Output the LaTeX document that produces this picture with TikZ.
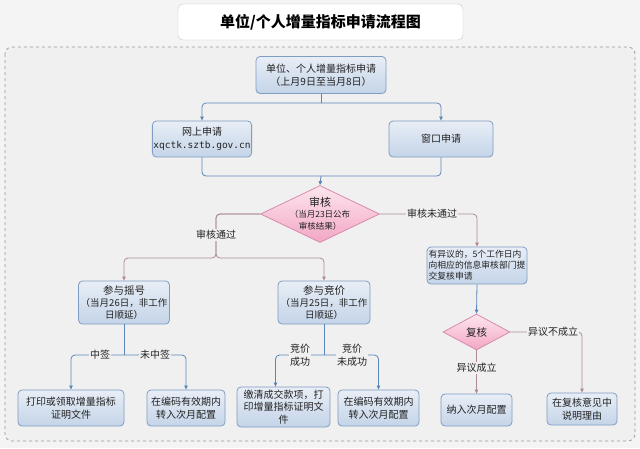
\documentclass[tikz,border=0pt]{standalone}
\usepackage{fontspec}
\setmainfont{Noto Sans CJK SC}
\setmonofont{DejaVu Sans Mono}
\usetikzlibrary{shapes.geometric,arrows.meta}
\definecolor{pagebg}{HTML}{F4F4F4}
\definecolor{contbg}{HTML}{F0F0F0}
\definecolor{contline}{HTML}{9A9A9A}
\definecolor{boxline}{HTML}{7F9DC2}
\definecolor{boxtop}{HTML}{E8EEF6}
\definecolor{boxbot}{HTML}{C4D4E8}
\definecolor{diatop}{HTML}{FDE6EE}
\definecolor{diabot}{HTML}{F2A6C4}
\definecolor{dialine}{HTML}{D98AAE}
\definecolor{blueline}{HTML}{5A86B8}
\definecolor{pinkline}{HTML}{B08A92}
\definecolor{txt}{HTML}{222222}
\tikzset{
  bluebox/.style={draw=boxline, line width=0.8pt, rounded corners=4pt,
    top color=boxtop, bottom color=boxbot, align=center, inner sep=1pt,
    font=\fontsize{10pt}{13pt}\selectfont, text=txt},
  diashape/.style={diamond, draw=dialine, line width=0.8pt,
    top color=diatop, bottom color=diabot, inner sep=0pt},
  diatext/.style={align=center, text=txt, inner sep=0pt},
  bconn/.style={draw=blueline, line width=0.8pt, rounded corners=4pt},
  pconn/.style={draw=pinkline, line width=0.8pt, rounded corners=4pt},
  tip/.style={-{Triangle[length=4pt,width=3.5pt]}},
  lbl/.style={fill=contbg, inner sep=1pt, text=txt, align=center,
    font=\fontsize{10pt}{12pt}\selectfont},
}
\begin{document}
\begin{tikzpicture}[x=1pt,y=-1pt]
\useasboundingbox (0,0) rectangle (640,448);
\fill[pagebg] (0,0) rectangle (640,448);
% container
\draw[contline, dashed, fill=contbg, rounded corners=7pt, line width=0.7pt] (5,47) rectangle (635,441);
% title
\node[draw=black!22, fill=white, rounded corners=5pt, minimum width=285, minimum height=36,
  font=\fontsize{15pt}{17pt}\selectfont\bfseries, text=black] (title) at (320.5,22) {单位/个人增量指标申请流程图};

% boxes
\node[bluebox, minimum width=130, minimum height=37] (start) at (321,75)
  {单位、个人增量指标申请\\（上月9日至当月8日）};
\node[bluebox, minimum width=99, minimum height=36] (web) at (202,139)
  {网上申请\\{\ttfamily\fontsize{9.5pt}{13pt}\selectfont xqctk.sztb.gov.cn}};
\node[bluebox, minimum width=104, minimum height=36] (win) at (441,139) {窗口申请};

\node[diashape, minimum width=119, minimum height=57] (shen) at (320,214) {};
\node[diatext] (shent) at (320,214)
  {{\fontsize{11pt}{12pt}\selectfont 审核}\\[-1pt]{\fontsize{8.5pt}{11pt}\selectfont （当月23日公布}\\{\fontsize{8.5pt}{11pt}\selectfont 审核结果）}};

\node[bluebox, minimum width=100, minimum height=37, align=left,
  font=\fontsize{8.8pt}{11pt}\selectfont] (yiyi) at (477,265.5)
  {有异议的，5个工作日内\\向相应的信息审核部门提\\交复核申请};

\node[diashape, minimum width=67, minimum height=36] (fu) at (476.5,332) {};
\node[diatext, font=\fontsize{10.5pt}{12pt}\selectfont] (fut) at (476.5,332) {复核};

\node[bluebox, minimum width=91, minimum height=43,
  font=\fontsize{9.5pt}{12pt}\selectfont] (yao) at (124,302.5)
  {{\fontsize{10.5pt}{12pt}\selectfont 参与摇号}\\（当月26日，非工作\\日顺延）};
\node[bluebox, minimum width=92, minimum height=43,
  font=\fontsize{9.5pt}{12pt}\selectfont] (jing) at (324,302.5)
  {{\fontsize{10.5pt}{12pt}\selectfont 参与竞价}\\（当月25日，非工作\\日顺延）};

\node[bluebox, minimum width=106, minimum height=36] (print) at (71,408)
  {打印或领取增量指标\\证明文件};
\node[bluebox, minimum width=78, minimum height=36] (bm1) at (186,408)
  {在编码有效期内\\转入次月配置};
\node[bluebox, minimum width=93, minimum height=40, font=\fontsize{10pt}{12.5pt}\selectfont] (pay) at (283.5,407)
  {缴清成交款项，打\\印增量指标证明文\\件};
\node[bluebox, minimum width=81, minimum height=36] (bm2) at (378.5,408)
  {在编码有效期内\\转入次月配置};
\node[bluebox, minimum width=71, minimum height=32] (fin1) at (476.5,410)
  {纳入次月配置};
\node[bluebox, minimum width=70, minimum height=32] (fin2) at (582,409)
  {在复核意见中\\说明理由};

% junction coordinates
\coordinate (j1) at (321,103);
\coordinate (j2) at (321,176);
\coordinate (j3) at (216,258);
\coordinate (j4) at (124,355);
\coordinate (j5) at (324,355);

% connectors
\draw[bconn] (start.south) -- (j1);
\draw[bconn, tip] (j1) -| (web.north);
\draw[bconn, tip] (j1) -| (win.north);
\draw[bconn] (web.south) |- (j2);
\draw[bconn] (win.south) |- (j2);
\draw[bconn, tip] (j2) -- (shen.north);

\draw[pconn, tip] (shen.west) -| (j3) -| (yao.north);
\draw[pconn, tip] (shen.west) -| (j3) -| (jing.north);
\node[lbl] (lpass) at (216,235) {审核通过};

\draw[pconn, tip] (shen.east) -| (yiyi.north);
\node[lbl] (lfail) at (432,214) {审核未通过};

\draw[bconn, tip] (yiyi.south) -- (fu.north);
\draw[pconn, tip] (fu.east) -| (fin2.north);
\node[lbl] (lno) at (553,332) {异议不成立};
\draw[pconn, tip] (fu.south) -- (fin1.north);
\node[lbl] (lyes) at (476.5,368) {异议成立};

\draw[bconn] (yao.south) -- (j4);
\draw[bconn, tip] (j4) -| (print.north);
\draw[bconn, tip] (j4) -| (bm1.north);
\node[lbl] (lzq) at (100,355) {中签};
\node[lbl] (lwzq) at (155,355) {未中签};

\draw[bconn] (jing.south) -- (j5);
\draw[bconn, tip] (j5) -| ([xshift=-8pt]pay.north);
\draw[bconn, tip] (j5) -| (bm2.north);
\node[lbl, font=\fontsize{10pt}{13pt}\selectfont] (lcg) at (300,355) {竞价\\成功};
\node[lbl, font=\fontsize{10pt}{13pt}\selectfont] (lwcg) at (352,355) {竞价\\未成功};
\end{tikzpicture}
\end{document}
